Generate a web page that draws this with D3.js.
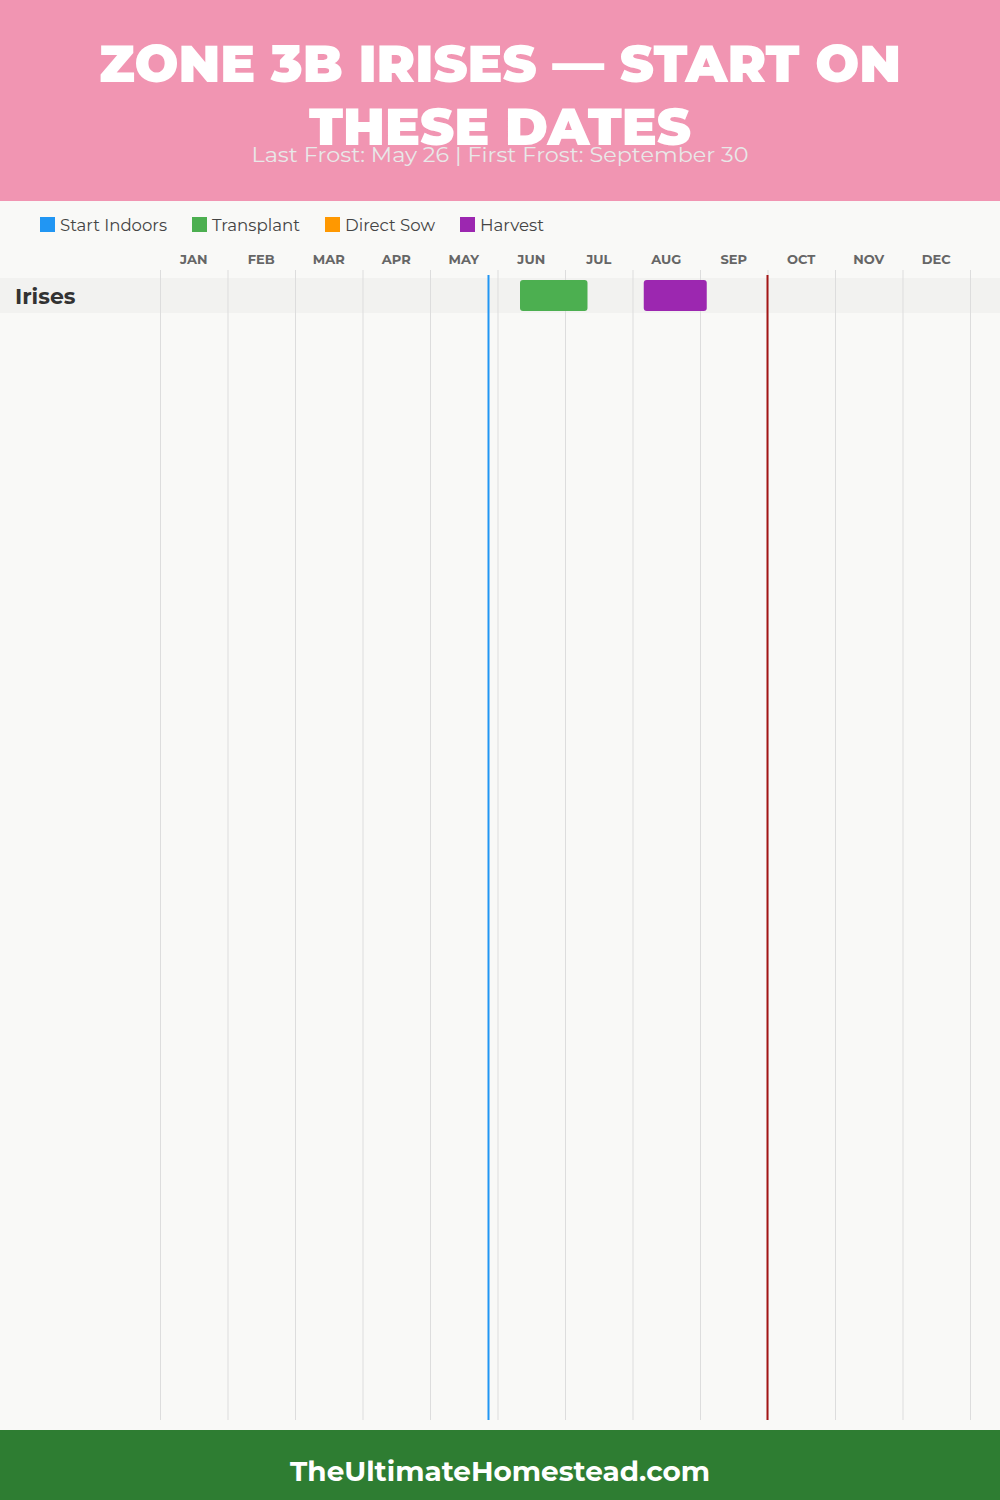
<!DOCTYPE html>
<html>
<head>
<meta charset="utf-8">
<script src="https://cdn.jsdelivr.net/npm/d3@7"></script>
<style>
  html, body { margin: 0; padding: 0; background: #f9f9f7; }
  svg { display: block; }
</style>
</head>
<body>
<svg id="chart" width="1000" height="1500"></svg>
<script>
// ---- data ----
const titleLines = ["ZONE 3B IRISES — START ON", "THESE DATES"];
const subtitle = "Last Frost: May 26 | First Frost: September 30";
const footerText = "TheUltimateHomestead.com";
const months = ["JAN","FEB","MAR","APR","MAY","JUN","JUL","AUG","SEP","OCT","NOV","DEC"];
const legendNames = ["Start Indoors", "Transplant", "Direct Sow", "Harvest"];
const legendColors = ["#2196F3", "#4CAF50", "#FF9800", "#9C27B0"];
const plants = ["Irises"];
// tasks: [plant, type, startMonth(0-based), startDay, endMonth, endDay]
const taskPlant = ["Irises", "Irises"];
const taskType = ["Transplant", "Harvest"];
const taskStart = [[5, 10], [7, 5]];
const taskEnd = [[6, 10], [8, 3]];
const lastFrost = [4, 26];
const firstFrost = [8, 30];

// ---- drawing ----
const W = 1000, H = 1500;
const svg = d3.select("#chart");
const font = "Montserrat, 'Open Sans', 'Noto Sans', sans-serif";

svg.append("rect").attr("x", 0).attr("y", 0).attr("width", W).attr("height", H).attr("fill", "#f9f9f7");

// header
svg.append("rect").attr("x", 0).attr("y", 0).attr("width", W).attr("height", 201).attr("fill", "#F195B2");
const titleWidths = [802, 382];
titleLines.forEach((t, i) => {
  svg.append("text")
    .attr("x", W / 2).attr("y", 82 + i * 63)
    .attr("text-anchor", "middle")
    .attr("font-family", font).attr("font-weight", 900).attr("font-size", 52)
    .attr("fill", "#ffffff")
    .attr("textLength", titleWidths[i]).attr("lengthAdjust", "spacingAndGlyphs")
    .text(t);
});
svg.append("text")
  .attr("x", W / 2).attr("y", 162)
  .attr("text-anchor", "middle")
  .attr("font-family", font).attr("font-size", 21)
  .attr("fill", "#e8e8e8")
  .attr("textLength", 497).attr("lengthAdjust", "spacingAndGlyphs")
  .text(subtitle);

// x scale: month index + day/30
const x = d3.scaleLinear().domain([0, 12]).range([160, 970]);
const pos = (md) => x(md[0] + md[1] / 30);

// legend
const legendX = [40, 192, 325, 460];
const legendW = [107, 88, 90, 64];
const lg = svg.append("g");
legendNames.forEach((n, i) => {
  lg.append("rect").attr("x", legendX[i]).attr("y", 217).attr("width", 15).attr("height", 15).attr("fill", legendColors[i]);
  lg.append("text").attr("x", legendX[i] + 20).attr("y", 231)
    .attr("font-family", font).attr("font-size", 16).attr("fill", "#444")
    .attr("textLength", legendW[i]).attr("lengthAdjust", "spacingAndGlyphs")
    .text(n);
});

// month labels
svg.append("g").selectAll("text").data(months).join("text")
  .attr("x", (d, i) => x(i + 0.5)).attr("y", 264)
  .attr("text-anchor", "middle")
  .attr("font-family", font).attr("font-weight", 700).attr("font-size", 13)
  .attr("fill", "#666")
  .text(d => d);

// rows
const y = d3.scaleBand().domain(plants).range([278, 278 + 35 * plants.length]);
svg.append("g").selectAll("rect").data(plants).join("rect")
  .attr("x", 0).attr("y", d => y(d)).attr("width", W).attr("height", y.bandwidth())
  .attr("fill", "#f2f2f0");

// grid lines
svg.append("g").selectAll("line").data(d3.range(13)).join("line")
  .attr("x1", d => x(d) + 0.5).attr("x2", d => x(d) + 0.5)
  .attr("y1", 270).attr("y2", 1420)
  .attr("stroke", "#dddddd").attr("stroke-width", 1);

svg.append("g").selectAll("text").data(plants).join("text")
  .attr("x", 15).attr("y", d => y(d) + y.bandwidth() / 2 + 8)
  .attr("font-family", font).attr("font-weight", 700).attr("font-size", 22)
  .attr("fill", "#333")
  .text(d => d);

// task bars
const color = d3.scaleOrdinal().domain(legendNames).range(legendColors);
svg.append("g").selectAll("rect").data(taskPlant.map((p, i) => i)).join("rect")
  .attr("x", i => pos(taskStart[i]))
  .attr("width", i => pos(taskEnd[i]) - pos(taskStart[i]))
  .attr("y", i => y(taskPlant[i]) + 2)
  .attr("height", y.bandwidth() - 4)
  .attr("rx", 3).attr("ry", 3)
  .attr("fill", i => color(taskType[i]));

// frost lines
svg.append("line")
  .attr("x1", pos(lastFrost)).attr("x2", pos(lastFrost))
  .attr("y1", 275).attr("y2", 1420)
  .attr("stroke", "#2196F3").attr("stroke-width", 2);
svg.append("line")
  .attr("x1", pos(firstFrost)).attr("x2", pos(firstFrost))
  .attr("y1", 275).attr("y2", 1420)
  .attr("stroke", "#A31515").attr("stroke-width", 2);

// footer
svg.append("rect").attr("x", 0).attr("y", 1430).attr("width", W).attr("height", 70).attr("fill", "#2E7D32");
svg.append("text")
  .attr("x", W / 2).attr("y", 1481)
  .attr("text-anchor", "middle")
  .attr("font-family", font).attr("font-weight", 700).attr("font-size", 28)
  .attr("fill", "#ffffff")
  .attr("textLength", 420).attr("lengthAdjust", "spacingAndGlyphs")
  .text(footerText);
</script>
</body>
</html>
